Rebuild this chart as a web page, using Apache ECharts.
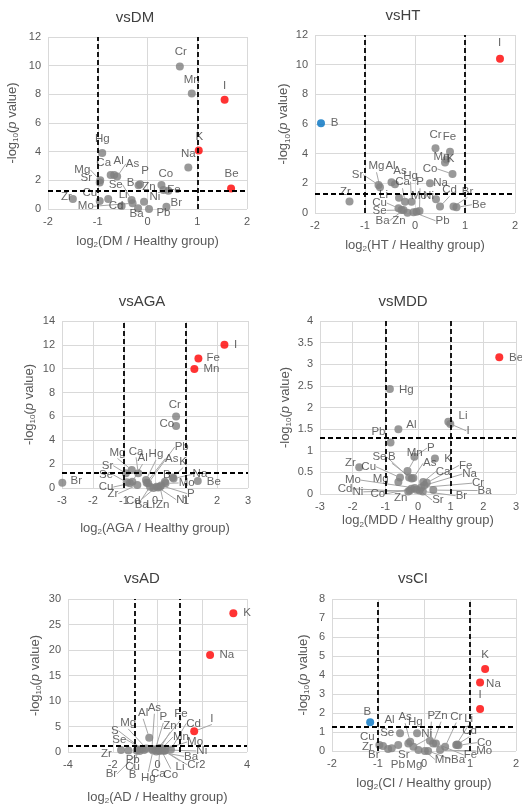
<!DOCTYPE html>
<html>
<head>
<meta charset="utf-8">
<script src="https://cdn.jsdelivr.net/npm/echarts@6.0.0/dist/echarts.min.js"></script>
<style>
  html, body { margin: 0; padding: 0; background: #fff; }
  #main { width: 522px; height: 807px; }
</style>
</head>
<body>
<div id="main"></div>
<script>
// ---- data: log2 ratio (x) and -log10 p (y) per element ----
var dmElements = ['Cr','Mn','I','K','Na','Be','Hg','Ca','Al','As','Mg','Sr','Se','B','P','Zn','Fe','Co','Cu','Mo','Zr','Li','Cd','Ba','Ni','Pb','Br'];
var dmLog2 = [0.65,0.89,1.55,1.03,0.82,1.68,-0.91,-0.74,-0.67,-0.61,-0.95,-0.96,-0.32,-0.18,-0.15,0.32,0.42,0.28,-0.96,-0.30,-1.50,-0.79,-0.52,-0.19,-0.07,0.03,0.38];
var dmLogP = [9.95,8.05,7.62,4.08,2.89,1.43,3.90,2.37,2.37,2.26,2.00,1.85,0.63,1.65,1.72,1.33,1.28,1.67,0.56,0.40,0.70,0.70,0.21,0.05,0.51,0.00,0.16];
var dmUp = ['I','K','Be'];
var dmDown = [];

var htElements = ['I','B','Cr','Fe','Mn','K','Co','Na','Sr','Mg','Al','As','Zr','Li','Ca','Hg','P','Ni','Mo','Cd','Br','Be','Cu','Se','Ba','Zn','Pb'];
var htLog2 = [1.70,-1.88,0.41,0.70,0.60,0.63,0.75,0.30,-0.73,-0.70,-0.47,-0.40,-1.31,-0.32,-0.20,-0.07,0.09,0.42,0.03,0.50,0.77,0.83,-0.33,-0.27,-0.23,-0.15,-0.03];
var htLogP = [10.4,6.05,4.36,4.13,3.40,3.60,2.63,2.00,1.89,1.73,2.07,1.93,0.78,1.03,0.76,0.76,0.13,0.92,0.09,0.43,0.43,0.38,0.32,0.20,0.20,0.02,0.05];
var htUp = ['I'];
var htDown = ['B'];

var agaElements = ['I','Fe','Mn','Cr','Co','Br','Be','Na','K','B','Mo','Sr','Mg','Ca','Al','Se','Cu','Zr','Hg','As','Pb','Cd','Li','Ba','Zn','Ni','P'];
var agaLog2 = [2.24,1.40,1.27,0.68,0.68,-2.99,1.38,0.60,0.57,0.32,0.34,-0.94,-0.75,-0.54,-0.73,-0.91,-0.81,-0.57,-0.29,-0.27,-0.22,-0.16,-0.05,0.05,0.16,0.10,0.20];
var agaLogP = [12.0,10.85,9.97,6.0,5.2,0.45,0.59,0.80,0.87,0.53,0.39,1.23,1.51,1.23,0.53,0.48,0.39,0.25,0.67,0.45,0.39,0.11,0.0,0.11,0.11,0.05,0.20];
var agaUp = ['I','Fe','Mn'];
var agaDown = [];

var mddElements = ['Be','Hg','Li','I','Al','Pb','Zr','P','K','Mn','Se','B','As','Mg','Cu','Ca','Fe','Na','Cr','Ba','Br','Sr','Zn','Co','Ni','Cd','Mo'];
var mddLog2 = [2.49,-0.86,0.93,0.99,-0.60,-0.84,-1.80,-0.11,0.52,-0.32,-0.27,-0.19,-0.14,-0.60,-0.55,0.16,0.27,0.20,0.10,0.47,0.15,0.05,-0.05,-0.20,-0.25,-0.30,-0.10];
var mddLogP = [3.16,2.43,1.67,1.62,1.50,1.19,0.62,0.86,0.82,0.53,0.38,0.36,0.37,0.28,0.38,0.28,0.26,0.20,0.15,0.09,0.06,0.08,0.10,0.12,0.08,0.06,0.14];
var mddUp = ['Be'];
var mddDown = [];

var adElements = ['K','Na','I','Cd','Al','Zr','Pb','Cu','B','Br','S','Se','Mg','As','Hg','P','Fe','Zn','Ca','Co','Mn','Mo','Li','Ba','Ni','Cr'];
var adLog2 = [3.39,2.35,1.64,0.60,-0.37,-1.63,-1.30,-0.93,-0.85,-0.80,-0.70,-0.60,-0.50,-0.25,-0.20,-0.10,0.00,0.05,0.10,0.15,0.20,0.25,0.30,-0.05,0.35,0.10];
var adLogP = [27.2,19.0,4.05,0.50,2.80,0.40,0.30,0.30,0.50,0.20,0.60,0.40,0.70,0.60,0.30,0.50,0.60,0.30,0.20,0.50,0.70,0.40,0.20,0.10,0.40,0.80];
var adUp = ['K','Na','I'];
var adDown = [];

var ciElements = ['K','Na','I','B','Al','Se','Hg','As','Cu','Zr','Br','Pb','Sr','Mg','Ni','P','Zn','Cr','Li','Cd','Co','Mo','Fe','Ba','Mn'];
var ciLog2 = [1.33,1.22,1.22,-1.17,-0.52,-0.56,-0.15,-0.30,-0.97,-0.89,-0.78,-0.70,-0.34,-0.12,-0.23,0.13,0.20,0.46,0.70,0.72,0.75,0.35,0.26,0.09,0.02];
var ciLogP = [4.32,3.60,2.21,1.51,0.93,0.32,0.93,0.49,0.32,0.26,0.10,0.15,0.40,0.05,0.23,0.54,0.40,0.23,0.32,0.34,0.30,0.05,0.40,0.00,0.00];
var ciUp = ['K','Na','I'];
var ciDown = ['B'];

// thresholds drawn as dashed lines
var foldCut = [-1, 1];
var pCut = 1.3;

// ---- label placement (data coords of each label's centre) ----
var dmLabelAt = {Cr:[0.67,10.95],Mn:[0.89,9.03],I:[1.55,8.56],K:[1.04,5.05],Na:[0.82,3.84],Be:[1.69,2.45],Hg:[-0.91,4.93],Ca:[-0.88,3.24],Al:[-0.58,3.36],As:[-0.30,3.15],Mg:[-1.31,2.73],Sr:[-1.23,2.15],Se:[-0.64,1.69],B:[-0.34,1.81],P:[-0.05,2.66],Zn:[0.03,1.53],Fe:[0.53,1.34],Co:[0.37,2.45],Cu:[-1.16,1.11],Mo:[-1.24,0.19],Zr:[-1.63,0.88],Li:[-0.49,1.0],Cd:[-0.63,0.25],Ba:[-0.22,-0.35],Ni:[0.15,0.88],Pb:[0.32,-0.28],Br:[0.58,0.46]};
var htLabelAt = {I:[1.69,11.46],B:[-1.61,6.07],Cr:[0.41,5.28],Fe:[0.69,5.12],Mn:[0.53,3.82],K:[0.71,3.64],Co:[0.30,2.97],Na:[0.51,2.02],Sr:[-1.15,2.58],Mg:[-0.77,3.15],Al:[-0.49,3.15],As:[-0.30,2.81],Hg:[-0.09,2.52],Ca:[-0.25,2.07],P:[0.10,2.07],Zr:[-1.39,1.42],Li:[-0.63,1.24],Cu:[-0.71,0.67],Se:[-0.71,0.18],Ba:[-0.65,-0.52],Zn:[-0.32,-0.52],Pb:[0.55,-0.52],Mo:[0.08,1.17],Ni:[0.27,1.17],Cd:[0.69,1.53],Br:[1.05,1.46],Be:[1.28,0.56]};
var agaLabelAt = {I:[2.60,12.02],Fe:[1.88,10.88],Mn:[1.82,9.98],Cr:[0.64,6.97],Co:[0.38,5.38],Pb:[0.86,3.43],Mg:[-1.21,2.98],Ca:[-0.61,3.07],Al:[-0.40,2.51],Hg:[0.03,2.84],As:[0.54,2.45],K:[0.91,2.23],Sr:[-1.53,1.87],Se:[-1.58,1.12],B:[0.38,1.12],Na:[1.45,1.15],Mo:[1.02,0.42],Be:[1.90,0.50],Br:[-2.54,0.56],Cu:[-1.58,0.08],Zr:[-1.36,-0.47],Cd:[-0.70,-1.06],Ba:[-0.43,-1.45],Li:[-0.14,-1.39],Zn:[0.25,-1.45],Ni:[0.86,-0.98],P:[1.16,-0.47]};
var mddLabelAt = {Be:[3.0,3.16],Hg:[-0.36,2.40],Li:[1.38,1.80],I:[1.53,1.46],Al:[-0.20,1.61],Pb:[-1.21,1.44],P:[0.39,1.06],Mn:[-0.10,0.96],Se:[-1.18,0.86],B:[-0.80,0.85],K:[0.92,0.82],As:[0.36,0.71],Fe:[1.46,0.66],Zr:[-2.07,0.71],Cu:[-1.51,0.63],Ca:[0.77,0.52],Na:[1.58,0.46],Mo:[-1.99,0.32],Mg:[-1.14,0.34],Cr:[1.84,0.25],Ba:[2.04,0.08],Cd:[-2.23,0.12],Ni:[-1.84,0.05],Co:[-1.23,0.0],Zn:[-0.53,-0.10],Sr:[0.61,-0.14],Br:[1.33,-0.04]};
var adLabelAt = {K:[4.0,27.2],Na:[3.10,19.0],I:[2.43,6.57],Cd:[1.61,5.58],Fe:[1.05,7.55],As:[-0.14,8.67],Al:[-0.64,7.68],P:[0.26,6.89],Zn:[0.56,5.06],Mg:[-1.31,5.71],S:[-1.91,4.14],Se:[-1.71,2.43],Mn:[1.05,2.95],Mo:[1.68,1.97],Ni:[1.98,0.2],Zr:[-2.28,-0.33],Ba:[1.50,-0.85],Pb:[-1.11,-1.51],Cu:[-1.11,-2.82],Cr:[1.60,-2.5],Li:[1.01,-2.95],Br:[-2.06,-4.27],B:[-1.11,-4.46],Hg:[-0.41,-5.06],Ca:[0.04,-4.27],Co:[0.59,-4.46]};
var ciLabelAt = {K:[1.33,5.06],Na:[1.51,3.53],I:[1.22,2.95],B:[-1.23,2.07],Al:[-0.75,1.63],As:[-0.41,1.78],Hg:[-0.19,1.55],P:[0.16,1.86],Zn:[0.37,1.86],Cr:[0.70,1.81],Li:[0.97,1.69],Cd:[0.99,1.07],Se:[-0.80,0.97],Cu:[-1.23,0.76],Ni:[0.06,0.93],Zr:[-1.23,0.23],Co:[1.31,0.44],Mo:[1.31,0.0],Fe:[1.01,-0.21],Br:[-1.09,-0.21],Sr:[-0.44,-0.18],Ba:[0.74,-0.44],Mn:[0.41,-0.44],Pb:[-0.57,-0.74],Mg:[-0.21,-0.74]};

var FONT = '"Liberation Sans", Arial, sans-serif';
var GRAY = '#595959';

var panels = [
  { title: 'vsDM', group: 'DM', tx: 130, ty: 14, rect: [48, 37, 199, 172], x: [-2, 2, 1], y: [0, 12, 2], xGap: 24, yGap: 28,
    names: dmElements, xs: dmLog2, ys: dmLogP, up: dmUp, down: dmDown, labelAt: dmLabelAt },
  { title: 'vsHT', group: 'HT', tx: 398, ty: 12, rect: [315, 35, 200, 178], x: [-2, 2, 1], y: [0, 12, 2], xGap: 24, yGap: 10,
    names: htElements, xs: htLog2, ys: htLogP, up: htUp, down: htDown, labelAt: htLabelAt },
  { title: 'vsAGA', group: 'AGA', tx: 137, ty: 298, rect: [62, 321, 186, 167], x: [-3, 3, 1], y: [0, 14, 2], xGap: 32, yGap: 25,
    names: agaElements, xs: agaLog2, ys: agaLogP, up: agaUp, down: agaDown, labelAt: agaLabelAt },
  { title: 'vsMDD', group: 'MDD', tx: 398, ty: 298, rect: [320, 321, 196, 173], x: [-3, 3, 1], y: [0, 4, 0.5], xGap: 18, yGap: 27,
    names: mddElements, xs: mddLog2, ys: mddLogP, up: mddUp, down: mddDown, labelAt: mddLabelAt },
  { title: 'vsAD', group: 'AD', tx: 137, ty: 575, rect: [68, 599, 179, 153], x: [-4, 4, 2], y: [0, 30, 5], xGap: 37, yGap: 25,
    names: adElements, xs: adLog2, ys: adLogP, up: adUp, down: adDown, labelAt: adLabelAt },
  { title: 'vsCI', group: 'CI', tx: 408, ty: 575, rect: [332, 599, 184, 152], x: [-2, 2, 1], y: [0, 8, 1], xGap: 24, yGap: 21,
    names: ciElements, xs: ciLog2, ys: ciLogP, up: ciUp, down: ciDown, labelAt: ciLabelAt }
];

function toPx(p, v) {
  var r = p.rect;
  return [
    r[0] + (v[0] - p.x[0]) / (p.x[1] - p.x[0]) * r[2],
    r[1] + r[3] - (v[1] - p.y[0]) / (p.y[1] - p.y[0]) * r[3]
  ];
}

var chart = echarts.init(document.getElementById('main'));

var titles = [], grids = [], xAxes = [], yAxes = [], series = [];

panels.forEach(function (p, i) {
  titles.push({
    text: p.title, left: p.tx, top: p.ty - 9, textAlign: 'center',
    textStyle: { fontFamily: FONT, fontSize: 15, fontWeight: 'normal', color: '#404040' }
  });
  grids.push({ left: p.rect[0], top: p.rect[1], width: p.rect[2], height: p.rect[3] });

  var tickLabel = { fontFamily: FONT, fontSize: 11, color: GRAY, margin: 7 };
  var split = { show: true, lineStyle: { color: '#d9d9d9', width: 1 } };

  xAxes.push({
    gridIndex: i, type: 'value', min: p.x[0], max: p.x[1], interval: p.x[2],
    axisLine: { show: false }, axisTick: { show: false }, splitLine: split, axisLabel: tickLabel,
    name: 'log{s|2}(' + p.group + ' / Healthy group)', nameLocation: 'middle', nameGap: p.xGap,
    nameTextStyle: {
      fontFamily: FONT, fontSize: 13, color: GRAY, lineHeight: 16,
      rich: { s: { fontFamily: FONT, fontSize: 8, color: GRAY, lineHeight: 16, verticalAlign: 'bottom', padding: [6, 0, 0, 0] } }
    }
  });
  yAxes.push({
    gridIndex: i, type: 'value', min: p.y[0], max: p.y[1], interval: p.y[2],
    axisLine: { show: false }, axisTick: { show: false }, splitLine: split, axisLabel: tickLabel,
    name: '-log{s|10}({i|p} value)', nameLocation: 'middle', nameGap: p.yGap,
    nameTextStyle: {
      fontFamily: FONT, fontSize: 13, color: GRAY, lineHeight: 16,
      rich: {
        s: { fontFamily: FONT, fontSize: 8, color: GRAY, lineHeight: 16, verticalAlign: 'bottom', padding: [6, 0, 0, 0] },
        i: { fontFamily: FONT, fontSize: 13, color: GRAY, fontStyle: 'italic', lineHeight: 16 }
      }
    }
  });

  var data = p.names.map(function (n, k) {
    var color = '#7f7f7f';
    if (p.up.indexOf(n) >= 0) color = '#ff0000';
    if (p.down.indexOf(n) >= 0) color = '#0070c0';
    var pt = toPx(p, [p.xs[k], p.ys[k]]);
    var lb = toPx(p, p.labelAt[n]);
    var d = Math.sqrt((pt[0] - lb[0]) * (pt[0] - lb[0]) + (pt[1] - lb[1]) * (pt[1] - lb[1]));
    return {
      name: n, value: [p.xs[k], p.ys[k]],
      itemStyle: { color: color },
      labelLine: { show: d > 18 }
    };
  });

  series.push({
    type: 'scatter', xAxisIndex: i, yAxisIndex: i,
    symbolSize: 8, data: data, animation: false,
    label: { show: true, formatter: '{b}', fontFamily: FONT, fontSize: 11.5, color: '#404040' },
    labelLine: { show: false, lineStyle: { color: '#a6a6a6', width: 1 } },
    labelLayout: function (params) {
      var pp = panels[params.seriesIndex];
      var at = toPx(pp, pp.labelAt[pp.names[params.dataIndex]]);
      return { x: at[0], y: at[1], align: 'center', verticalAlign: 'middle' };
    },
    markLine: {
      silent: true, symbol: ['none', 'none'], animation: false,
      label: { show: false },
      lineStyle: { color: '#000', type: [5, 3], width: 1.8 },
      data: [{ xAxis: foldCut[0] }, { xAxis: foldCut[1] }, { yAxis: pCut }]
    }
  });
});

chart.setOption({
  backgroundColor: '#fff',
  animation: false,
  title: titles,
  grid: grids,
  xAxis: xAxes,
  yAxis: yAxes,
  series: series
});
</script>
</body>
</html>
